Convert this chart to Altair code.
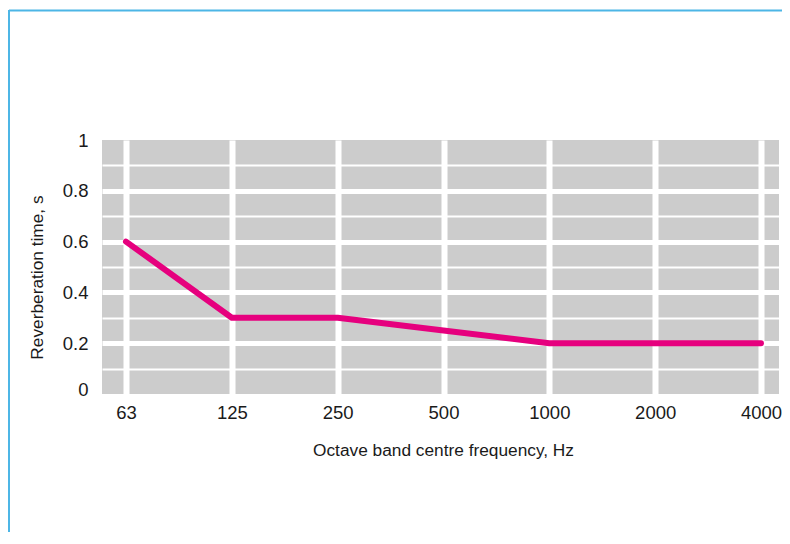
import altair as alt
import pandas as pd

frequencies = ["63", "125", "250", "500", "1000", "2000", "4000"]
reverb_time = [0.6, 0.3, 0.3, 0.25, 0.2, 0.2, 0.2]
y_ticks = [0, 0.1, 0.2, 0.3, 0.4, 0.5, 0.6, 0.7, 0.8, 0.9, 1.0]

df = pd.DataFrame({"idx": list(range(len(frequencies))), "freq": frequencies, "rt": reverb_time})

label_arr = "[" + ",".join("'" + f + "'" for f in frequencies) + "]"
FONT = "Liberation Sans"

x_axis = alt.Axis(
    values=list(range(len(frequencies))),
    labelExpr=label_arr + "[datum.value]",
    title="Octave band centre frequency, Hz",
    grid=True, gridColor="white", gridWidth=6,
    domain=False, ticks=False,
    labelFont=FONT, labelFontSize=18.5, labelColor="#1a1a1a", labelPadding=9,
    labelFlush=False,
    titleFont=FONT, titleFontSize=17.3, titleFontWeight="normal", titleColor="#1a1a1a",
    titleBaseline="alphabetic", titleY=61, titleX=341,
)

y_axis = alt.Axis(
    values=y_ticks,
    labelExpr="round(datum.value*10)%2==0 ? format(datum.value,'~g') : ''",
    title="Reverberation time, s",
    grid=True, gridColor="white",
    gridWidth=alt.ConditionalAxisNumber(condition={"test": "round(datum.value*10)%2==0", "value": 5}, value=2),
    gridOpacity=alt.ConditionalAxisNumber(condition={"test": "datum.value<0.05 || datum.value>0.95", "value": 0}, value=1),
    labelOffset=alt.ConditionalAxisNumber(condition={"test": "datum.value<0.05", "value": -5}, value=0),
    domain=False, ticks=False, labelOverlap=False,
    labelFont=FONT, labelFontSize=18.5, labelColor="#1a1a1a", labelPadding=14,
    titleFont=FONT, titleFontSize=17.3, titleFontWeight="normal", titleColor="#1a1a1a",
    titleAngle=-90, titleBaseline="alphabetic", titleAlign="center",
    titleX=-60, titleY=137,
)

line = alt.Chart(df).mark_line(color="#E6007E", strokeWidth=6, strokeCap="round", strokeJoin="round").encode(
    x=alt.X("idx:Q", scale=alt.Scale(domain=[-0.2268, 6.17], nice=False, zero=False), axis=x_axis),
    y=alt.Y("rt:Q", scale=alt.Scale(domain=[0, 1], nice=False), axis=y_axis),
    order="idx:Q",
)

frame_data = alt.InlineData(values=[{"k": 1}])
frame_top = alt.Chart(frame_data).mark_rule(color="#4DB6E6", strokeWidth=2).encode(
    x=alt.value(-93), x2=alt.value(720), y=alt.value(-129.5)
)
frame_left = alt.Chart(frame_data).mark_rule(color="#4DB6E6", strokeWidth=2).encode(
    x=alt.value(-93), y=alt.value(-130), y2=alt.value(420)
)

chart = alt.layer(line, frame_top, frame_left).properties(
    width=677, height=254,
    autosize=alt.AutoSizeParams(type="none"),
    padding={"left": 94, "top": 132, "right": 3, "bottom": 138},
    background="white",
).configure_view(fill="#CCCCCC", stroke=None)

chart.save("out.html", embed_options={"renderer": "svg", "actions": False})
